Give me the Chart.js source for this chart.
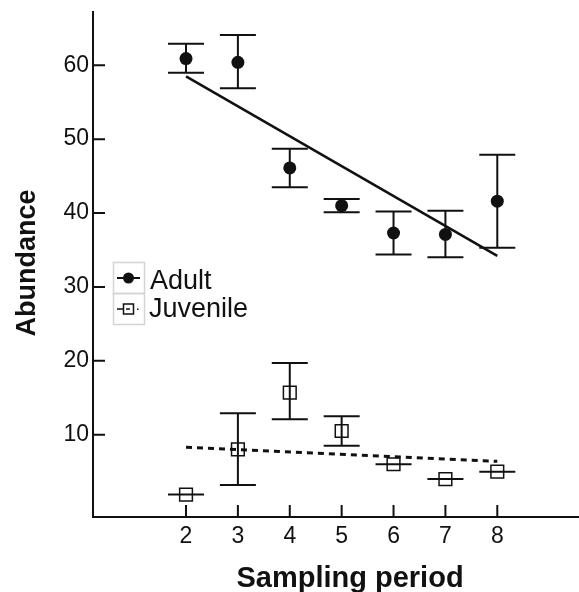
<!DOCTYPE html>
<html><head><meta charset="utf-8">
<script src="https://cdn.jsdelivr.net/npm/chart.js@4.4.0/dist/chart.umd.min.js"></script>
<style>html,body{margin:0;padding:0;background:#fff}canvas{display:block}</style>
</head><body>
<canvas id="c" width="579" height="592"></canvas>
<script>
// ---- data ----
const periods    = [2, 3, 4, 5, 6, 7, 8];
const adultMean  = [60.9, 60.4, 46.1, 41.0, 37.3, 37.1, 41.6];
const adultLow   = [59.0, 56.9, 43.5, 40.1, 34.4, 34.0, 35.3];
const adultHigh  = [62.9, 64.1, 48.7, 41.9, 40.2, 40.3, 47.9];
const juvMean    = [1.9, 8.0, 15.7, 10.5, 6.0, 4.0, 5.0];
const juvLow     = [1.9, 3.2, 12.1, 8.5, 6.0, 4.0, 5.0];
const juvHigh    = [1.9, 12.9, 19.7, 12.5, 6.0, 4.0, 5.0];
const adultTrendX = [2, 8];
const adultTrendY = [58.5, 34.2];
const juvTrendX   = [2, 8];
const juvTrendY   = [8.3, 6.4];
const xTicks = [2, 3, 4, 5, 6, 7, 8];
const yTicks = [10, 20, 30, 40, 50, 60];
const seriesNames = ['Adult', 'Juvenile'];
const xTitle = 'Sampling period';
const yTitle = 'Abundance';

const FONT = '"Liberation Sans", Arial, Helvetica, sans-serif';
const INK = '#111';

const pts = (xs, ys) => xs.map((x, i) => ({x: x, y: ys[i]}));

const decor = {
  id: 'decor',
  beforeDatasetsDraw(chart) {
    const ctx = chart.ctx, xs = chart.scales.x, ys = chart.scales.y;
    ctx.save();
    ctx.strokeStyle = INK; ctx.lineWidth = 2;
    const bars = (lo, hi) => periods.forEach((p, i) => {
      const x = xs.getPixelForValue(p);
      const y1 = ys.getPixelForValue(lo[i]), y2 = ys.getPixelForValue(hi[i]);
      ctx.beginPath();
      ctx.moveTo(x, y1); ctx.lineTo(x, y2);
      ctx.moveTo(x - 18, y1); ctx.lineTo(x + 18, y1);
      ctx.moveTo(x - 18, y2); ctx.lineTo(x + 18, y2);
      ctx.stroke();
    });
    bars(adultLow, adultHigh);
    bars(juvLow, juvHigh);
    ctx.restore();
  },
  afterDraw(chart) {
    const ctx = chart.ctx, xs = chart.scales.x, ys = chart.scales.y, a = chart.chartArea;
    ctx.save();
    // inward tick marks
    ctx.strokeStyle = INK; ctx.lineWidth = 2;
    ctx.beginPath();
    xTicks.forEach(v => { const x = xs.getPixelForValue(v); ctx.moveTo(x, a.bottom); ctx.lineTo(x, a.bottom - 12); });
    yTicks.forEach(v => { const y = ys.getPixelForValue(v); ctx.moveTo(a.left, y); ctx.lineTo(a.left + 12, y); });
    ctx.stroke();
    // axis titles
    ctx.fillStyle = INK;
    ctx.font = 'bold 29px ' + FONT;
    ctx.textAlign = 'center'; ctx.textBaseline = 'alphabetic';
    ctx.fillText(xTitle, 350, 587);
    ctx.save();
    ctx.translate(35, 263);
    ctx.rotate(-Math.PI / 2);
    ctx.font = 'bold 27px ' + FONT;
    ctx.fillText(yTitle, 0, 0);
    ctx.restore();
    // legend
    ctx.strokeStyle = '#d4d4d4'; ctx.lineWidth = 1.5;
    ctx.strokeRect(113.5, 262.5, 31, 31);
    ctx.strokeRect(113.5, 293.5, 31, 31);
    ctx.strokeStyle = INK; ctx.lineWidth = 2;
    ctx.beginPath(); ctx.moveTo(117, 278); ctx.lineTo(140, 278); ctx.stroke();
    ctx.fillStyle = INK;
    ctx.beginPath(); ctx.arc(128.5, 278, 5.5, 0, Math.PI * 2); ctx.fill();
    ctx.lineWidth = 1.5;
    ctx.strokeRect(123.5, 304, 10, 10);
    ctx.beginPath(); ctx.moveTo(117, 309); ctx.lineTo(123, 309); ctx.moveTo(126, 309); ctx.lineTo(130, 309); ctx.stroke();
    ctx.fillRect(137, 308.5, 1.5, 1.5);
    ctx.font = '27px ' + FONT;
    ctx.textAlign = 'left';
    ctx.fillText(seriesNames[0], 150, 289);
    ctx.fillText(seriesNames[1], 149, 317);
    ctx.restore();
  }
};

new Chart(document.getElementById('c'), {
  type: 'scatter',
  data: {
    datasets: [
      { label: seriesNames[0], data: pts(periods, adultMean), pointStyle: 'circle', pointRadius: 6.5,
        backgroundColor: INK, borderColor: INK, borderWidth: 0, order: 1 },
      { label: seriesNames[1], data: pts(periods, juvMean), pointStyle: 'rect', pointRadius: 9,
        backgroundColor: 'rgba(0,0,0,0)', borderColor: INK, borderWidth: 1.5, order: 1 },
      { type: 'line', label: 'Adult trend', data: pts(adultTrendX, adultTrendY), borderColor: INK,
        borderWidth: 2.5, pointRadius: 0, fill: false, order: 2 },
      { type: 'line', label: 'Juvenile trend', data: pts(juvTrendX, juvTrendY), borderColor: INK,
        borderWidth: 3, borderDash: [6, 5], pointRadius: 0, fill: false, order: 2 }
    ]
  },
  options: {
    responsive: false, animation: false, devicePixelRatio: 1,
    layout: { autoPadding: false, padding: { top: 12, left: 0, right: 0, bottom: 0 } },
    plugins: { legend: { display: false }, tooltip: { enabled: false } },
    scales: {
      x: {
        type: 'linear', min: 0.207, max: 9.575,
        grid: { display: false, drawTicks: false },
        border: { display: true, color: INK, width: 2 },
        afterBuildTicks: s => { s.ticks = xTicks.map(v => ({value: v})); },
        afterFit: s => { s.height = 75; s.paddingLeft = 0; s.paddingRight = 0; },
        ticks: { padding: 6, color: INK, font: { family: FONT, size: 23 }, maxRotation: 0 }
      },
      y: {
        type: 'linear', min: -1.14, max: 67.21,
        grid: { display: false, drawTicks: false },
        border: { display: true, color: INK, width: 2 },
        afterBuildTicks: s => { s.ticks = yTicks.map(v => ({value: v})); },
        afterFit: s => { s.width = 93; s.paddingTop = 0; s.paddingBottom = 0; },
        ticks: { padding: 4, color: INK, font: { family: FONT, size: 23 } }
      }
    }
  },
  plugins: [decor]
});
</script>
</body></html>
